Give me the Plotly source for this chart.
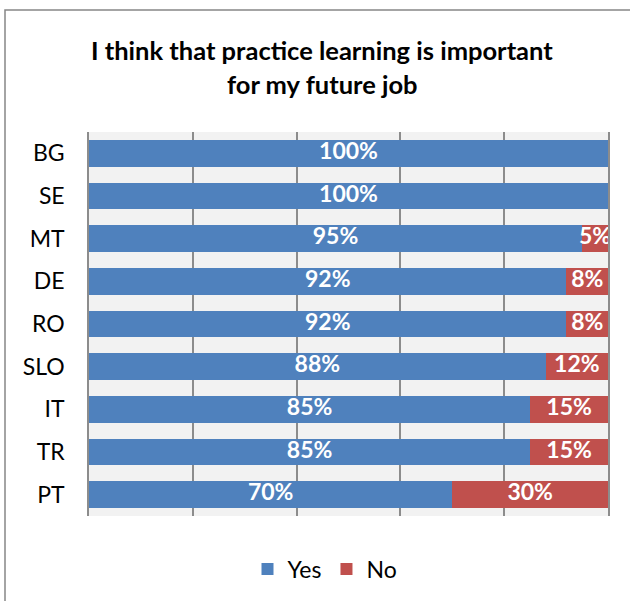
import plotly.graph_objects as go

countries = ["BG", "SE", "MT", "DE", "RO", "SLO", "IT", "TR", "PT"]
yes_vals = [100, 100, 95, 92, 92, 88, 85, 85, 70]
no_vals = [0, 0, 5, 8, 8, 12, 15, 15, 30]
series_names = ["Yes", "No"]
colors = ["#4F81BD", "#C0504D"]
title_lines = ["I think that practice learning is important", "for my future job"]

FONT = "Lato"
W, H = 630, 601
ML, MR, MT_, MB = 89, 22, 132, 85
PW, PH = W - ML - MR, H - MT_ - MB

fig = go.Figure()
for name, vals, col in zip(series_names, [yes_vals, no_vals], colors):
    fig.add_trace(go.Bar(
        y=countries, x=vals, name=name, orientation="h",
        marker=dict(color=col, line=dict(width=0)),
        hoverinfo="x+y",
    ))

# data labels at segment centers
lab_x, lab_y, lab_t = [], [], []
for c, yv, nv in zip(countries, yes_vals, no_vals):
    if yv > 0:
        lab_x.append(yv / 2); lab_y.append(c); lab_t.append(f"{yv}%")
    if nv > 0:
        lab_x.append(yv + nv / 2); lab_y.append(c); lab_t.append(f"{nv}%")
fig.add_trace(go.Scatter(
    x=lab_x, y=lab_y, text=lab_t, mode="text", showlegend=False,
    textfont=dict(family=FONT, size=23, color="white", weight="bold"),
    hoverinfo="skip", cliponaxis=False,
))

def px_to_paper_x(p):
    return (p - ML) / PW

def px_to_paper_y(p):
    return (H - MB - p) / PH

fig.add_shape(type="rect", xref="paper", yref="paper",
              x0=px_to_paper_x(5), x1=px_to_paper_x(645),
              y0=px_to_paper_y(620), y1=px_to_paper_y(10),
              line=dict(color="#868686", width=1.5), layer="below")

for line, ypx in zip(title_lines, [50, 84]):
    fig.add_annotation(text=line, xref="paper", yref="paper",
                       x=px_to_paper_x(322), y=px_to_paper_y(ypx),
                       xanchor="center", yanchor="middle", showarrow=False,
                       font=dict(family=FONT, size=25.5, color="black", weight="bold"))

fig.update_layout(
    width=W, height=H,
    margin=dict(l=ML, r=MR, t=MT_, b=MB, autoexpand=False),
    barmode="stack", bargap=0.375,
    paper_bgcolor="white", plot_bgcolor="#F2F2F2",
    font=dict(family=FONT, color="black"),
    legend=dict(orientation="h", x=px_to_paper_x(325), xanchor="center",
                y=px_to_paper_y(569), yanchor="middle",
                font=dict(family=FONT, size=23, color="black"),
                traceorder="normal", itemwidth=30),
    showlegend=True,
)
fig.update_xaxes(range=[0, 100], dtick=20, showgrid=True, gridcolor="#8C8C8C",
                 gridwidth=1.5, showticklabels=False, zeroline=False,
                 showline=False, ticks="")
fig.update_yaxes(autorange="reversed", showgrid=False, zeroline=False,
                 showline=True, mirror=True, linecolor="#8C8C8C", linewidth=1.5,
                 tickfont=dict(family=FONT, size=23, color="black"),
                 ticks="", ticklabelstandoff=18)

fig.write_html("out.html", config={"displayModeBar": False},
               post_script="document.body.style.margin='0';document.body.style.overflow='hidden';")
